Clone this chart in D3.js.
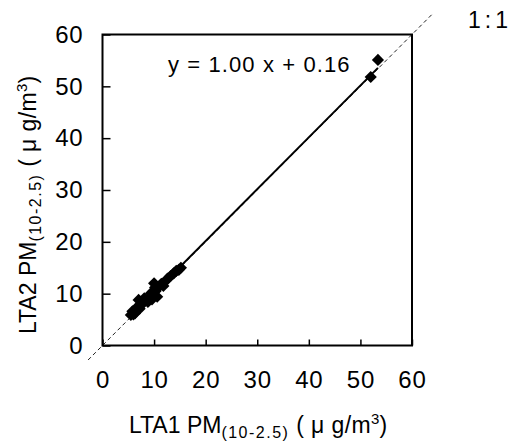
<!DOCTYPE html>
<html>
<head>
<meta charset="utf-8">
<script src="https://cdn.jsdelivr.net/npm/d3@7"></script>
<style>
  body { margin: 0; background: #fff; }
  svg { display: block; font-family: "Liberation Sans", Arial, sans-serif; }
</style>
</head>
<body>
<svg id="chart" width="513" height="441"></svg>
<script>
// LTA1 vs LTA2 coarse PM (ug/m3)
const lta1 = [5.5, 5.8, 6.0, 6.3, 6.7, 7.0, 7.2, 7.4, 7.9, 8.1, 8.3, 8.8, 9.2, 9.4, 9.6, 10.0, 10.2, 10.3, 10.6, 10.9, 11.4, 11.8, 12.0, 12.6, 13.2, 13.8, 14.3, 14.8, 15.2, 52.0, 53.4];
const lta2 = [5.9, 6.6, 6.0, 6.2, 7.4, 8.8, 7.1, 7.7, 8.3, 9.1, 8.9, 8.4, 9.3, 10.1, 8.9, 12.0, 11.2, 10.5, 9.4, 11.3, 11.9, 11.5, 12.2, 12.9, 13.4, 13.9, 14.4, 14.6, 15.0, 51.8, 55.1];
const tickValues = [0, 10, 20, 30, 40, 50, 60];
const slope = 1.00, intercept = 0.16;
const oneToOne = [-2.8, 63.8];
const eqLabel = 'y = 1.00 x + 0.16';

const svg = d3.select('#chart');
const pLeft = 102.5, pRight = 412, pTop = 34.5, pBottom = 345.5;

const x = d3.scaleLinear().domain([0, 60]).range([pLeft, pRight]);
const y = d3.scaleLinear().domain([0, 60]).range([pBottom, pTop]);

// 1:1 dashed line (runs past the box)
svg.append('line')
    .attr('x1', x(oneToOne[0])).attr('y1', y(oneToOne[0]))
    .attr('x2', x(oneToOne[1])).attr('y2', y(oneToOne[1]))
    .attr('stroke', '#222')
    .attr('stroke-width', 1)
    .attr('stroke-dasharray', '4,3');

// axes with inward ticks
const xAxis = svg.append('g')
    .attr('transform', `translate(0,${pBottom})`)
    .call(d3.axisBottom(x).tickValues(tickValues).tickSizeInner(-6).tickSizeOuter(0).tickPadding(25));
const yAxis = svg.append('g')
    .attr('transform', `translate(${pLeft},0)`)
    .call(d3.axisLeft(y).tickValues(tickValues).tickSizeInner(-8).tickSizeOuter(0).tickPadding(19));

[xAxis, yAxis].forEach(g => {
    g.select('.domain').remove();
    g.selectAll('line').attr('stroke', '#000').attr('stroke-width', 1.5);
    g.selectAll('text')
        .attr('font-family', '"Liberation Sans", Arial, sans-serif')
        .attr('font-size', '24px')
        .attr('letter-spacing', '0.8px')
        .attr('fill', '#000');
});

// frame
svg.append('rect')
    .attr('x', pLeft).attr('y', pTop)
    .attr('width', pRight - pLeft).attr('height', pBottom - pTop)
    .attr('fill', 'none')
    .attr('stroke', '#000')
    .attr('stroke-width', 2);

// trend line over data range
const xmin = d3.min(lta1), xmax = d3.max(lta1);
svg.append('line')
    .attr('x1', x(xmin)).attr('y1', y(slope * xmin + intercept))
    .attr('x2', x(xmax)).attr('y2', y(slope * xmax + intercept))
    .attr('stroke', '#000')
    .attr('stroke-width', 2);

// diamond markers
const pts = lta1.map((v, i) => ({ a: v, b: lta2[i] }));
svg.append('g').selectAll('path')
    .data(pts)
    .enter().append('path')
    .attr('d', d3.symbol().type(d3.symbolSquare).size(74))
    .attr('transform', d => `translate(${x(d.a)},${y(d.b)}) rotate(45)`)
    .attr('fill', '#000');

// equation
svg.append('text')
    .attr('x', 168).attr('y', 72)
    .attr('font-size', '22px')
    .attr('letter-spacing', '1.1px')
    .text(eqLabel);

svg.append('text')
    .attr('x', 468).attr('y', 28)
    .attr('font-size', '23px')
    .attr('letter-spacing', '4px')
    .text('1:1');

// axis titles with sub/superscripts
function title(g, name) {
    const t = g.append('text')
        .attr('text-anchor', 'middle')
        .attr('font-size', '23px')
        .attr('fill', '#000');
    t.append('tspan').text(name + ' PM');
    t.append('tspan').attr('font-size', '16px').attr('letter-spacing', '1.5px').attr('dy', 5).text('(10-2.5)');
    t.append('tspan').attr('dy', -5).attr('letter-spacing', '0.4px').text(' ( μ g/m');
    t.append('tspan').attr('font-size', '15px').attr('dy', -9).text('3');
    t.append('tspan').attr('dy', 9).text(')');
    return t;
}

title(svg.append('g').attr('transform', 'translate(258,433)'), 'LTA1');
title(svg.append('g').attr('transform', 'translate(36,205) rotate(-90)'), 'LTA2');
</script>
</body>
</html>
